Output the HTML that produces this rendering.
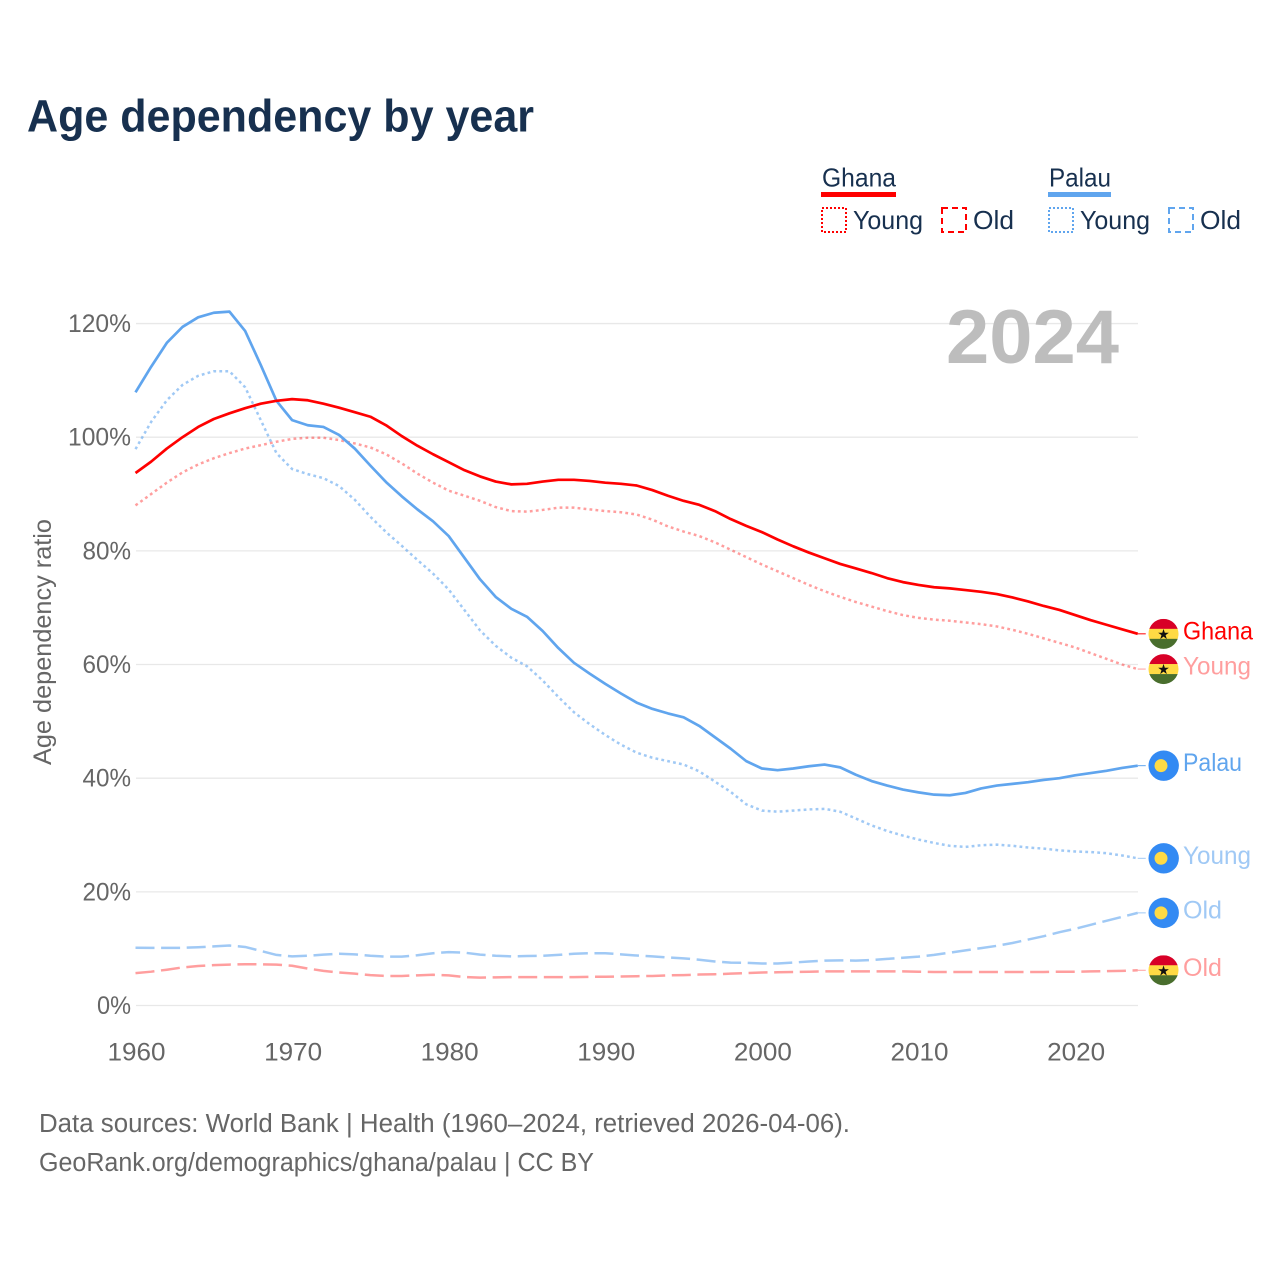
<!DOCTYPE html>
<html lang="en">
<head>
<meta charset="utf-8">
<title>Age dependency by year</title>
<style>
html,body{margin:0;padding:0;background:#fff;}
svg{display:block;}
text{font-family:"Liberation Sans",sans-serif;}
</style>
</head>
<body>
<svg id="chart" xmlns="http://www.w3.org/2000/svg" width="1280" height="1280" viewBox="0 0 1280 1280">
  <rect x="0" y="0" width="1280" height="1280" fill="#ffffff"/>
  <text x="27" y="131.5" font-size="45" font-weight="700" fill="#17304f" textLength="507" lengthAdjust="spacingAndGlyphs">Age dependency by year</text>

  <g font-size="26" fill="#17304f">
    <g>
      <text x="822" y="186.5" textLength="74" lengthAdjust="spacingAndGlyphs">Ghana</text>
      <rect x="821" y="192" width="75" height="5" fill="#ff0000"/>
      <rect x="822" y="208" width="24" height="24" fill="none" stroke="#ff0000" stroke-width="2" stroke-dasharray="2 2"/>
      <text x="853" y="229" textLength="70" lengthAdjust="spacingAndGlyphs">Young</text>
      <rect x="942" y="208" width="24" height="24" fill="none" stroke="#ff0000" stroke-width="2" stroke-dasharray="6 4"/>
      <text x="973" y="229" textLength="41" lengthAdjust="spacingAndGlyphs">Old</text>
    </g>
    <g>
      <text x="1049" y="186.5" textLength="62" lengthAdjust="spacingAndGlyphs">Palau</text>
      <rect x="1048" y="192" width="63" height="5" fill="#60a5ee"/>
      <rect x="1049" y="208" width="24" height="24" fill="none" stroke="#60a5ee" stroke-width="2" stroke-dasharray="2 2"/>
      <text x="1080" y="229" textLength="70" lengthAdjust="spacingAndGlyphs">Young</text>
      <rect x="1169" y="208" width="24" height="24" fill="none" stroke="#60a5ee" stroke-width="2" stroke-dasharray="6 4"/>
      <text x="1200" y="229" textLength="41" lengthAdjust="spacingAndGlyphs">Old</text>
    </g>
  </g>

  <text transform="translate(51,765) rotate(-90)" x="0" y="0" font-size="25" fill="#666666" textLength="246" lengthAdjust="spacingAndGlyphs">Age dependency ratio</text>

  <g id="grid"></g>
  <g id="y-ticks" font-size="25" fill="#666666"></g>
  <g id="x-ticks" font-size="25" fill="#666666"></g>

  <text x="946" y="363" font-size="76" font-weight="700" fill="#bdbdbd" textLength="173" lengthAdjust="spacingAndGlyphs">2024</text>

  <g id="series"></g>
  <g id="end-labels" font-size="25"></g>

  <g font-size="25.5" fill="#666666">
    <text x="39" y="1132" textLength="811" lengthAdjust="spacingAndGlyphs">Data sources: World Bank | Health (1960–2024, retrieved 2026-04-06).</text>
    <text x="39" y="1171" textLength="555" lengthAdjust="spacingAndGlyphs">GeoRank.org/demographics/ghana/palau | CC BY</text>
  </g>
</svg>

<script>
const startYear = 1960;
const xTickYears = [1960, 1970, 1980, 1990, 2000, 2010, 2020];
const yTickValues = [0, 20, 40, 60, 80, 100, 120];

const ghanaTotal = [93.7,95.7,98,100,101.8,103.2,104.2,105.1,105.9,106.4,106.7,106.5,105.9,105.2,104.4,103.6,102.1,100.2,98.5,97,95.6,94.2,93.1,92.2,91.7,91.8,92.2,92.5,92.5,92.3,92,91.8,91.5,90.7,89.7,88.8,88.1,87,85.6,84.4,83.3,82,80.8,79.7,78.7,77.7,76.9,76.1,75.2,74.5,74,73.6,73.4,73.1,72.8,72.4,71.8,71.1,70.3,69.6,68.7,67.8,67,66.2,65.4];
const ghanaYoung = [88,90,92,93.8,95.2,96.3,97.2,98,98.6,99.2,99.7,99.9,99.9,99.5,98.9,98.2,97,95.4,93.6,92,90.6,89.7,88.8,87.7,87,86.9,87.2,87.6,87.6,87.3,87,86.8,86.4,85.5,84.3,83.4,82.6,81.5,80.2,78.9,77.6,76.4,75.2,74,72.9,71.9,71,70.2,69.4,68.7,68.2,67.9,67.7,67.4,67.1,66.7,66.1,65.4,64.6,63.8,63,62,61,60,59.2];
const ghanaOld = [5.7,5.95,6.3,6.7,6.95,7.1,7.2,7.25,7.25,7.2,7,6.5,6.1,5.8,5.6,5.35,5.2,5.2,5.3,5.4,5.3,5,4.9,4.95,5,5,5,5,5,5.05,5.05,5.1,5.15,5.2,5.3,5.35,5.45,5.5,5.6,5.7,5.8,5.85,5.9,5.95,6,6,6,6,6,6,5.95,5.9,5.9,5.9,5.9,5.9,5.9,5.9,5.9,5.95,5.95,6,6.05,6.1,6.2];
const palauTotal = [107.9,112.4,116.6,119.4,121.1,121.9,122.1,118.7,112.7,106.4,103,102.1,101.8,100.4,98,95,92.1,89.6,87.3,85.2,82.6,78.8,75,71.9,69.8,68.4,65.9,62.9,60.3,58.4,56.6,54.9,53.3,52.2,51.4,50.7,49.2,47.2,45.2,43,41.7,41.4,41.7,42.1,42.4,41.9,40.6,39.5,38.7,38,37.5,37.1,37,37.4,38.2,38.7,39,39.3,39.7,40,40.5,40.9,41.3,41.8,42.2];
const palauYoung = [97.9,102.7,106.5,109.2,110.8,111.6,111.6,108.8,103,97.2,94.4,93.5,92.8,91.4,89,86,83.3,80.9,78.4,76,73.2,69.6,66,63.3,61.2,59.7,57.2,54.3,51.6,49.5,47.6,45.9,44.5,43.6,43,42.4,41.2,39.4,37.6,35.4,34.3,34.1,34.3,34.5,34.6,34.1,32.9,31.7,30.7,29.9,29.2,28.6,28.1,27.9,28.2,28.3,28.1,27.8,27.6,27.3,27.1,27,26.8,26.4,25.9];
const palauOld = [10.17,10.15,10.15,10.15,10.25,10.4,10.55,10.3,9.6,8.9,8.65,8.75,8.95,9.1,9,8.75,8.6,8.6,8.85,9.2,9.4,9.3,8.95,8.75,8.65,8.7,8.75,8.9,9.1,9.2,9.2,9,8.8,8.65,8.45,8.3,8.05,7.75,7.55,7.5,7.4,7.4,7.55,7.75,7.9,7.95,7.9,8,8.2,8.4,8.6,8.9,9.3,9.7,10.1,10.5,11,11.6,12.2,12.9,13.5,14.2,14.9,15.6,16.3];

const NS = 'http://www.w3.org/2000/svg';
const xScale = function (year) { return 135.5 + (year - 1960) * 15.66; };
const yScale = function (value) { return 1005.5 - value * 5.683; };

function make(tag, attrs, parent) {
  const el = document.createElementNS(NS, tag);
  Object.keys(attrs).forEach(function (key) { el.setAttribute(key, attrs[key]); });
  parent.appendChild(el);
  return el;
}

const gridGroup = document.getElementById('grid');
const yTickGroup = document.getElementById('y-ticks');
yTickValues.forEach(function (value) {
  const line = make('line', { x1: 136, x2: 1138, y1: yScale(value), y2: yScale(value), stroke: '#e8e8e8', 'stroke-width': 1.3 }, gridGroup);
  
  
  const label = String(value) + '%';
  const width = (label.length - 1) * 14.5 + 19.5;
  const tick = make('text', { x: 131 - width, y: yScale(value) + 8.5, textLength: width, lengthAdjust: 'spacingAndGlyphs' }, yTickGroup);
  
  
  tick.textContent = label;
});

const xTickGroup = document.getElementById('x-ticks');
xTickYears.forEach(function (year) {
  const tick = make('text', { x: xScale(year) + 1 - 29, y: 1060.5, textLength: 58, lengthAdjust: 'spacingAndGlyphs' }, xTickGroup);
  
  
  tick.textContent = String(year);
});

const seriesGroup = document.getElementById('series');
const labelGroup = document.getElementById('end-labels');

function ghanaFlag(cy, index) {
  const clipId = 'ghana-clip-' + index;
  const defs = make('clipPath', { id: clipId }, labelGroup);
  make('circle', { cx: 1163.5, cy: cy, r: 15 }, defs);
  const flag = make('g', { 'clip-path': 'url(#' + clipId + ')' }, labelGroup);
  
  
  make('rect', { x: 1148, y: cy - 15, width: 31, height: 10.2, fill: '#d80027' }, flag);
  make('rect', { x: 1148, y: cy - 5, width: 31, height: 10.2, fill: '#ffda44' }, flag);
  make('rect', { x: 1148, y: cy + 5, width: 31, height: 10.2, fill: '#496e2d' }, flag);
  const star = make('text', { x: 1163.5, y: cy + 5, 'font-size': 14, 'text-anchor': 'middle', fill: '#111111' }, flag);
  star.style.fontFamily = '"DejaVu Sans",sans-serif';
  star.textContent = '★';
}

function palauFlag(cy) {
  const flag = make('g', {}, labelGroup);
  
  
  make('circle', { cx: 1163.7, cy: cy, r: 15.2 }, flag);
  flag.firstChild.setAttribute('fill', '#338af3');
  make('circle', { cx: 1161, cy: cy, r: 6.5, fill: '#ffda44' }, flag);
}

let flagIndex = 0;
function drawSeries(name, values, color, opacity, width, dash, country, labelText, labelWidth) {
  const xEnd = xScale(startYear + values.length - 1);
  const yEnd = yScale(values[values.length - 1]);
  const d = values.map(function (value, i) {
    return (i ? 'L' : 'M') + xScale(startYear + i).toFixed(2) + ' ' + yScale(value).toFixed(2);
  }).join(' ');
  const path = make('path', { d: d, fill: 'none', stroke: color, 'stroke-opacity': opacity, 'stroke-width': width, 'stroke-linejoin': 'round' }, seriesGroup);
  if (dash) { path.setAttribute('stroke-dasharray', dash); }
  
  
  const leader = make('line', { x1: xEnd, x2: xEnd + 8, y1: yEnd, y2: yEnd, stroke: color, 'stroke-opacity': opacity, 'stroke-width': 1 }, seriesGroup);
  
  
  if (country === 'ghana') { ghanaFlag(yEnd, flagIndex); flagIndex += 1; } else { palauFlag(yEnd); }
  const label = make('text', { x: 1183, y: yEnd + 5.5, fill: color, 'fill-opacity': opacity, textLength: labelWidth, lengthAdjust: 'spacingAndGlyphs' }, labelGroup);
  
  
  label.textContent = labelText;
}

drawSeries('palau-old', palauOld, '#60a5ee', 0.6, 2.5, '19 6.6', 'palau', 'Old', 39);
drawSeries('ghana-old', ghanaOld, '#ff0000', 0.38, 2.5, '19 6.6', 'ghana', 'Old', 39);
drawSeries('palau-young', palauYoung, '#60a5ee', 0.6, 2.5, '2.8 3.2', 'palau', 'Young', 68);
drawSeries('ghana-young', ghanaYoung, '#ff0000', 0.38, 2.5, '2.8 3.2', 'ghana', 'Young', 68);
drawSeries('palau', palauTotal, '#60a5ee', 1, 2.7, '', 'palau', 'Palau', 59);
drawSeries('ghana', ghanaTotal, '#ff0000', 1, 2.7, '', 'ghana', 'Ghana', 70);
</script>
</body>
</html>
